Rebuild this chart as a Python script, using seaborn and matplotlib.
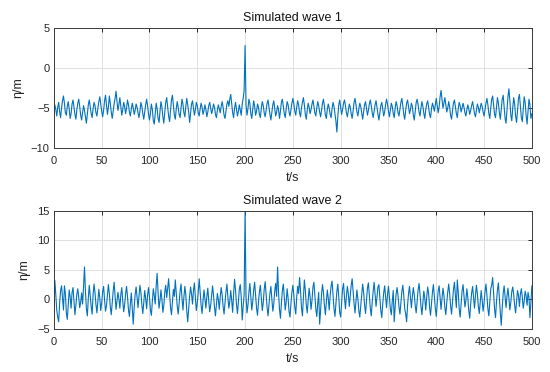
import numpy as np
import pandas as pd
import matplotlib
matplotlib.use("Agg")
import matplotlib.pyplot as plt
import seaborn as sns

# time axis, 1 s sampling, 0..500 s
t = np.arange(0, 501)

# values (wave 1, mean about -5 m)
wave1 = [
    -5.8, -4.6, -5.2, -6.0, -4.9, -4.3, -5.5, -6.2, -5.0, -4.1,
    -3.5, -4.4, -5.6, -5.9, -4.8, -4.2, -5.1, -6.3, -5.7, -4.5,
    -4.0, -4.9, -5.8, -6.4, -5.2, -4.4, -3.9, -4.8, -5.9, -6.5,
    -5.6, -4.7, -5.3, -6.1, -6.9, -5.8, -4.6, -4.0, -4.9, -5.7,
    -6.2, -5.1, -4.3, -4.7, -5.6, -6.0, -5.0, -4.2, -3.6, -4.5,
    -5.4, -6.1, -5.3, -4.1, -3.4, -4.6, -5.8, -4.9, -3.5, -4.4,
    -5.5, -6.3, -5.4, -4.5, -3.8, -2.9, -4.2, -5.3, -4.6, -3.7,
    -4.8, -5.9, -5.2, -4.3, -4.8, -5.7, -5.0, -4.0, -4.6, -5.5,
    -6.0, -5.1, -4.4, -5.0, -5.8, -5.3, -4.5, -4.9, -5.6, -6.2,
    -5.4, -4.3, -4.8, -5.7, -6.4, -5.5, -4.6, -3.9, -4.7, -5.8,
    -6.5, -5.6, -4.5, -5.2, -6.6, -7.0, -5.7, -4.4, -5.1, -6.3,
    -6.8, -5.4, -4.2, -4.9, -6.1, -6.9, -5.5, -4.3, -3.7, -4.8,
    -6.0, -6.7, -5.3, -4.0, -3.4, -4.6, -5.9, -6.4, -5.1, -4.2,
    -4.9, -5.8, -6.2, -5.0, -3.9, -4.5, -5.6, -6.1, -4.8, -3.8,
    -4.6, -5.5, -6.8, -5.7, -4.5, -4.1, -5.0, -5.9, -5.2, -4.3,
    -4.7, -5.6, -6.0, -5.1, -4.4, -4.9, -5.8, -5.3, -4.6, -5.2,
    -6.1, -5.5, -4.7, -4.3, -5.0, -5.7, -5.2, -4.5, -4.9, -5.8,
    -6.2, -5.3, -4.6, -5.1, -5.6, -4.8, -4.2, -4.9, -5.9, -6.3,
    -5.4, -4.5, -4.1, -4.8, -3.9, -3.3, -4.4, -5.6, -6.2, -5.0,
    -4.3, -5.2, -6.0, -5.4, -4.6, -5.3, -5.9, -4.5, -3.8, -2.8,
    2.8, -4.6, -5.9, -5.1, -3.9, -4.4, -5.7, -6.3, -5.2, -4.1,
    -4.8, -5.9, -5.4, -4.5, -4.9, -5.8, -6.2, -5.0, -4.2, -4.7,
    -5.6, -6.1, -5.3, -4.4, -4.0, -4.9, -5.8, -6.5, -5.6, -4.6,
    -4.1, -5.0, -6.0, -5.5, -4.7, -5.2, -6.3, -5.4, -4.3, -3.9,
    -4.8, -5.7, -6.2, -5.1, -4.2, -4.6, -5.5, -6.0, -5.2, -4.4,
    -3.8, -4.5, -5.4, -5.9, -4.9, -4.1, -4.6, -5.6, -6.1, -5.0,
    -4.3, -3.7, -4.6, -5.8, -6.4, -5.3, -4.4, -4.9, -5.7, -5.2,
    -4.5, -4.0, -4.8, -5.6, -6.0, -5.0, -4.2, -4.7, -5.5, -6.1,
    -5.3, -4.4, -3.9, -4.8, -5.9, -6.3, -5.2, -4.5, -5.0, -5.8,
    -6.2, -5.1, -4.3, -4.8, -5.7, -6.6, -8.0, -6.1, -4.6, -4.0,
    -4.9, -5.8, -5.2, -4.4, -4.0, -4.7, -5.6, -6.1, -5.3, -4.5,
    -4.9, -5.7, -6.3, -5.4, -4.3, -3.8, -4.6, -5.5, -6.0, -5.1,
    -4.4, -4.8, -5.6, -6.4, -5.5, -4.6, -4.2, -5.0, -5.9, -5.3,
    -4.5, -4.0, -4.7, -5.6, -6.2, -5.4, -4.6, -4.1, -4.9, -5.8,
    -6.5, -5.6, -4.7, -4.3, -5.1, -6.0, -5.5, -4.6, -3.9, -4.5,
    -5.4, -6.1, -5.2, -4.4, -4.8, -5.7, -6.2, -5.0, -4.2, -4.7,
    -5.6, -6.0, -5.1, -4.3, -3.8, -4.7, -5.8, -6.4, -5.3, -4.4,
    -4.0, -4.9, -5.7, -5.2, -4.4, -4.8, -5.9, -6.5, -5.4, -4.3,
    -3.9, -4.6, -5.5, -6.0, -5.0, -4.2, -4.8, -5.7, -6.3, -5.2,
    -4.5, -4.1, -4.9, -5.8, -6.2, -5.1, -4.4, -4.8, -5.4, -4.6,
    -3.8, -4.7, -5.6, -4.9, -3.6, -2.8, -3.9, -5.0, -4.4, -3.7,
    -4.6, -5.5, -5.0, -4.2, -4.9, -5.9, -6.4, -5.3, -4.4, -4.0,
    -4.8, -5.7, -6.2, -5.1, -4.3, -4.7, -5.5, -5.0, -4.4, -4.9,
    -5.6, -6.0, -5.2, -4.6, -5.1, -5.8, -5.3, -4.7, -4.2, -4.9,
    -5.7, -6.1, -5.3, -4.5, -4.9, -5.6, -5.0, -4.4, -4.8, -5.5,
    -6.0, -5.2, -4.4, -3.8, -4.6, -5.7, -6.3, -5.0, -3.9, -3.5,
    -4.6, -5.8, -6.2, -4.9, -3.7, -4.4, -5.6, -6.4, -5.1, -3.9,
    -3.4, -4.8, -6.3, -6.9, -5.2, -3.6, -2.6, -4.1, -5.9, -6.6,
    -5.0, -3.7, -4.5, -6.0, -6.8, -5.4, -3.8, -3.3, -4.7, -6.2,
    -6.7, -5.1, -3.6, -4.3, -5.9, -7.0, -5.5, -3.9, -4.6, -6.3,
    -5.7,
]

# values (wave 2, mean about 0 m)
wave2 = [
    -2.5, 3.2, 0.8, -1.9, -3.0, -3.8, -0.6, 1.5, 2.3, 0.2,
    -1.8, 2.3, 1.0, -2.2, -3.4, -0.8, 1.6, 0.4, -1.5, 1.2,
    2.0, -0.3, -2.6, -1.0, 0.9, 1.8, 0.3, -1.4, -0.5, 1.1,
    -0.8, 2.1, 5.5, 1.4, -1.6, -2.8, 0.2, 2.4, 0.6, -1.2,
    -2.5, 0.8, 2.6, 1.1, -0.9, -2.3, -0.4, 1.7, 0.2, -1.9,
    -0.6, 1.3, 2.2, -0.1, -2.0, -1.1, 0.7, 2.5, 1.0, -1.3,
    -2.6, -0.5, 1.4, 2.9, 0.6, -1.7, -0.3, 1.2, 0.1, -1.5,
    0.8, 2.0, -0.2, -2.1, -0.9, 0.9, 2.2, 0.5, -1.8, -2.9,
    -0.7, 1.1, -1.6, -4.2, -1.3, 0.8, 2.1, 0.3, -1.4, 0.6,
    2.4, 1.2, -0.9, -2.4, -0.6, 1.5, 0.2, -1.6, 0.7, 2.0,
    0.4, -1.9, -2.7, -0.3, 1.8, 0.6, -0.8, 2.3, 4.4, 1.1,
    -1.5, -0.2, 1.6, 0.0, -2.2, -1.0, 1.3, 2.4, 0.3, 1.8,
    3.5, 0.9, -1.4, -2.6, -0.4, 1.7, 0.5, 3.3, 1.2, -1.1,
    -2.5, -0.7, 1.4, 2.6, 0.2, -1.8, 0.4, 2.2, 0.8, -2.0,
    -3.8, -1.6, 0.6, 2.1, 0.9, -0.8, 1.5, 2.8, 0.3, -1.9,
    -0.6, 1.2, 3.5, 1.3, -1.0, -2.4, -0.2, 1.6, 0.1, -1.5,
    0.5, 1.9, -0.3, -2.1, -1.0, 0.7, 2.3, 0.6, -1.3, -2.8,
    -0.9, 1.0, 0.0, -1.7, 0.4, 2.0, 0.8, -1.2, -2.5, -0.6,
    1.3, 2.6, 0.4, -1.5, -0.3, 1.5, -0.2, -2.2, 0.9, 3.4,
    1.6, -0.8, -2.4, -0.5, 1.8, 2.5, 0.3, -3.5, -1.2, 0.8,
    15.0, 0.5, -2.3, -1.0, 1.2, 2.7, 0.4, -1.8, -0.4, 1.6,
    2.9, 0.6, -1.5, -2.7, -0.5, 1.3, 2.4, 0.2, -1.9, -0.6,
    1.7, 3.0, 0.8, -1.3, -2.8, -0.9, 1.0, 2.2, 0.1, -2.0,
    -0.8, 1.4, 2.7, 0.5, 5.5, 1.2, -1.7, -3.2, -0.6, 1.5,
    2.6, 0.3, -1.8, -0.4, 1.8, 0.2, -2.1, -3.0, -0.7, 1.2,
    2.4, 0.7, -1.3, -2.5, 0.3, 2.2, 1.0, 3.7, 1.5, -1.4,
    -2.8, 0.4, 3.3, 1.6, -0.9, -2.3, -0.3, 1.9, 0.5, -1.7,
    -0.2, 2.1, 2.9, 0.6, -1.6, -2.9, -0.7, 1.2, -4.2, -1.9,
    0.9, 2.5, 1.1, -1.0, -2.6, -0.5, 1.6, 0.2, -1.8, 0.6,
    2.3, 3.1, 0.7, -1.5, -2.9, -0.8, 1.3, 2.6, 0.4, -2.2,
    -3.0, -0.6, 1.8, 2.7, 0.3, -1.6, 0.5, 2.2, 1.0, -1.2,
    0.7, 2.4, 3.5, 1.4, -0.7, -2.3, -0.4, 1.6, 0.1, -1.9,
    -3.0, -1.1, 0.8, 2.6, 1.2, -0.9, -2.4, -0.3, 1.9, 2.8,
    0.6, -1.5, -2.8, -0.5, 1.4, 2.9, 0.9, -1.2, 0.4, 2.1,
    2.5, 0.2, -1.9, -3.1, -0.8, 1.1, 2.3, 0.5, -1.4, 0.8,
    2.2, 0.4, -1.7, -2.6, -0.3, 1.5, -3.8, -1.2, 0.9, 2.0,
    0.6, -1.3, -2.5, -0.6, 1.3, 2.4, 0.7, -1.6, -2.4, -3.8,
    -1.0, 1.0, 2.2, 0.3, -1.4, 0.5, 2.0, 0.8, -1.1, -2.3,
    -0.4, 1.6, 2.7, 0.9, -1.2, -2.6, -0.5, 1.4, 0.2, -1.8,
    0.3, 2.1, 1.0, -1.3, -2.7, -0.7, 1.2, 2.5, 0.6, -1.5,
    -2.9, -0.6, 1.5, 2.3, 0.4, -1.7, 0.2, 1.9, 0.7, -1.4,
    -2.6, -0.5, 1.2, 2.6, 1.0, -1.1, -2.5, -0.3, 1.7, 2.9,
    0.8, -1.4, 3.3, 1.2, -1.6, -3.0, -0.7, 1.4, 2.5, 0.5,
    -1.3, -0.2, 1.8, 0.3, -1.9, -3.2, -0.8, 1.1, 2.2, 0.4,
    -1.5, 0.6, 2.4, 1.0, -1.2, -2.4, -0.4, 1.5, -0.1, -2.0,
    -0.6, 1.3, 2.6, 0.7, -1.6, -2.8, -0.5, 1.8, 2.4, 3.7,
    0.9, -1.7, -3.1, -0.4, 1.6, 2.8, 0.3, -2.2, -4.4, -1.5,
    1.0, 2.3, 0.5, -1.4, 0.6, 1.9, 0.2, -1.8, -0.5, 1.3,
    2.1, 0.8, -1.0, -2.3, -0.4, 1.5, 0.7, -1.2, 0.9, 1.8,
    0.4, -1.5, -0.3, 1.4, 0.6, -1.0, 1.2, 0.3, -3.1, -0.6,
    2.3,
]

titles = ["Simulated wave 1", "Simulated wave 2"]
ylims = [(-10, 5), (-5, 15)]
yticks = [[-10, -5, 0, 5], [-5, 0, 5, 10, 15]]
xticks = list(range(0, 501, 50))

df = pd.DataFrame({"t": t, "wave1": wave1, "wave2": wave2})

sns.set_style("white")
plt.rcParams["font.family"] = ["Liberation Sans", "DejaVu Sans"]

fig = plt.figure(figsize=(5.5, 3.72), dpi=100)
ax1 = fig.add_axes([0.098, 0.602, 0.869, 0.323])
ax2 = fig.add_axes([0.098, 0.116, 0.869, 0.317])

line_color = "#0072BD"
edge = "#262626"

for ax, col, title, ylim, yt in zip([ax1, ax2], ["wave1", "wave2"], titles, ylims, yticks):
    sns.lineplot(data=df, x="t", y=col, ax=ax, color=line_color, linewidth=0.8)
    ax.set_xlim(0, 500)
    ax.set_ylim(*ylim)
    ax.set_xticks(xticks)
    ax.set_yticks(yt)
    ax.grid(True, color="#e0e0e0", linewidth=0.7)
    ax.set_axisbelow(True)
    ax.tick_params(direction="in", length=3, width=0.7, colors=edge,
                   labelsize=8, top=True, right=True)
    ax.tick_params(axis="x", pad=6)
    ax.tick_params(axis="y", pad=3)
    for sp in ax.spines.values():
        sp.set_color("#3a3a3a")
        sp.set_linewidth(0.7)
    ax.set_title(title, fontsize=9, color="#111111", pad=5)
    ax.set_xlabel("t/s", fontsize=9, color=edge, labelpad=4)
    ax.set_ylabel("η/m", fontsize=9, color=edge, labelpad=5)

fig.savefig("out.png", dpi=100)
